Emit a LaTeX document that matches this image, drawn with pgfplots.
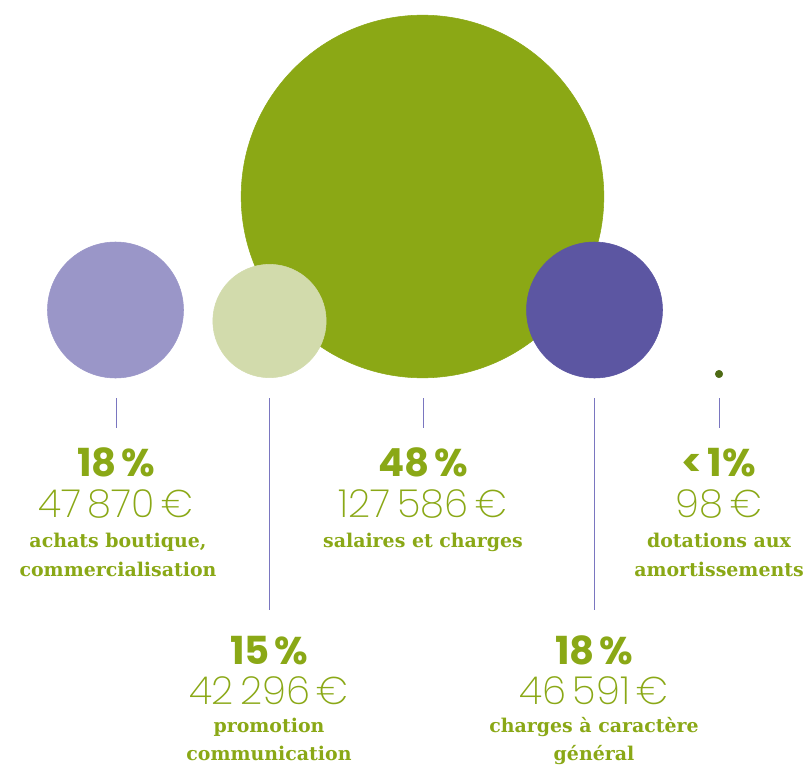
\documentclass[border=0pt]{standalone}
\usepackage{pgfplots}
\pgfplotsset{compat=1.18}
\usepackage{fontspec}
\setmainfont{DejaVu Serif}
\newfontfamily\pctfont{Poppins Bold}
\newfontfamily\numfont{Poppins ExtraLight}
\newfontfamily\descfont{DejaVu Serif Bold}
\definecolor{txtgreen}{HTML}{8AA816}
\definecolor{biggreen}{HTML}{8BA815}
\definecolor{lav}{HTML}{9A96C8}
\definecolor{lightg}{HTML}{D2DBAC}
\definecolor{dpurp}{HTML}{5C56A2}
\definecolor{dotg}{HTML}{4E6A14}
\definecolor{linec}{HTML}{7A76C0}
\tikzset{
  pct/.style={anchor=base, font=\pctfont\fontsize{29}{29}\selectfont, text=txtgreen, inner sep=0},
  num/.style={anchor=base, font=\numfont\fontsize{29}{29}\selectfont, text=txtgreen, inner sep=0},
  desc/.style={anchor=base, font=\descfont\fontsize{14.2}{17}\selectfont, text=txtgreen, inner sep=0},
}
\newcommand{\gap}{\hspace{0.12em}}
\begin{document}
\begin{tikzpicture}
\begin{axis}[width=609pt, height=575.25pt, scale only axis,
  xmin=0, xmax=812, ymin=0, ymax=767, y dir=reverse,
  hide axis, clip=false]
% bubbles (radius in px * 0.75 = pt)
\addplot[only marks, mark=*, color=lav, mark size=51pt] coordinates {(115.5,310)};
\addplot[only marks, mark=*, color=biggreen, mark size=136pt] coordinates {(422.5,196.5)};
\addplot[only marks, mark=*, color=lightg, mark size=42.5pt] coordinates {(269.5,321)};
\addplot[only marks, mark=*, color=dpurp, mark size=51pt] coordinates {(594.5,310)};
\addplot[only marks, mark=*, color=dotg, mark size=2.8pt] coordinates {(719,374)};
% leader lines
\addplot[color=linec, line width=0.75pt] coordinates {(116,398) (116,428)};
\addplot[color=linec, line width=0.75pt] coordinates {(269,398) (269,610)};
\addplot[color=linec, line width=0.75pt] coordinates {(423,398) (423,428)};
\addplot[color=linec, line width=0.75pt] coordinates {(594,398) (594,610)};
\addplot[color=linec, line width=0.75pt] coordinates {(719,398) (719,428)};
% labels row 1
\node[pct] at (axis cs:116,476) {18\gap\%};
\node[num] at (axis cs:116,517) {47\,870\,€};
\node[desc] at (axis cs:118,547) {achats boutique,};
\node[desc] at (axis cs:118,576) {commercialisation};
\node[pct] at (axis cs:423,476) {48\gap\%};
\node[num] at (axis cs:423,517) {127\,586\,€};
\node[desc] at (axis cs:423,547) {salaires et charges};
\node[pct] at (axis cs:719,476) {<\gap1\%};
\node[num] at (axis cs:719,517) {98\,€};
\node[desc] at (axis cs:719,547) {dotations aux};
\node[desc] at (axis cs:719,576) {amortissements};
% labels row 2
\node[pct] at (axis cs:269,664) {15\gap\%};
\node[num] at (axis cs:269,704) {42\,296\,€};
\node[desc] at (axis cs:269,732) {promotion};
\node[desc] at (axis cs:269,760) {communication};
\node[pct] at (axis cs:594,664) {18\gap\%};
\node[num] at (axis cs:594,704) {46\,591\,€};
\node[desc] at (axis cs:594,732) {charges à caractère};
\node[desc] at (axis cs:594,760) {général};
\end{axis}
\pgfresetboundingbox
\useasboundingbox (current axis.south west) rectangle (current axis.north east);
\end{tikzpicture}
\end{document}
